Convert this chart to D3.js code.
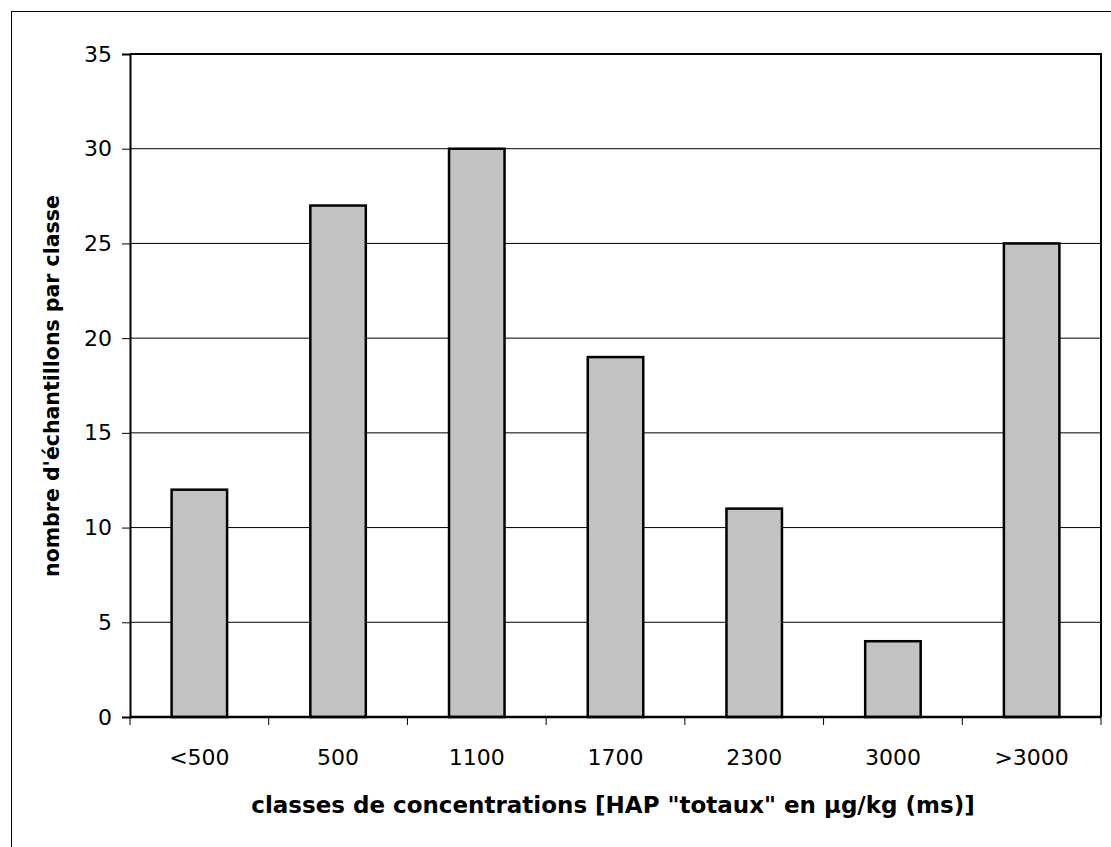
<!DOCTYPE html>
<html>
<head>
<meta charset="utf-8">
<script src="https://cdn.jsdelivr.net/npm/d3@7"></script>
<style>
  body { margin: 0; background: #fff; }
  svg { display: block; font-family: Tahoma, "DejaVu Sans", Verdana, sans-serif; }
</style>
</head>
<body>
<div id="chart"></div>
<script>
// data
var categories = ['<500', '500', '1100', '1700', '2300', '3000', '>3000'];
var counts = [12, 27, 30, 19, 11, 4, 25];
var yTicks = [0, 5, 10, 15, 20, 25, 30, 35];
var xTitle = 'classes de concentrations [HAP "totaux" en µg/kg (ms)]';
var yTitle = "nombre d'échantillons par classe";

function buildChart(containerId) {
    var width = 1111;
    var height = 847;

    var margin = { top: 54, right: 10, bottom: 130, left: 130 };
    var innerWidth = 1101 - margin.left;
    var innerHeight = 717 - margin.top;

    var svg = d3.select(containerId)
        .append('svg')
        .attr('width', width)
        .attr('height', height);

    // outer chart border
    svg.append('rect')
        .attr('x', 11.5)
        .attr('y', 11.5)
        .attr('width', width + 20)
        .attr('height', height + 20)
        .style('fill', 'none')
        .style('stroke', '#000')
        .style('stroke-width', 1);

    var g = svg.append('g')
        .attr('transform', 'translate(' + margin.left + ',' + margin.top + ')');

    var x = d3.scaleBand()
        .domain(categories)
        .range([0, innerWidth])
        .paddingInner(0.6)
        .paddingOuter(0.3);

    var xOuter = d3.scaleBand()
        .domain(categories)
        .range([0, innerWidth]);

    var y = d3.scaleLinear()
        .domain([0, 35])
        .range([innerHeight, 0]);

    // gridlines
    g.append('g')
        .selectAll('line')
        .data(yTicks.slice(1))
        .enter()
        .append('line')
        .attr('x1', 0)
        .attr('x2', innerWidth)
        .attr('y1', d => y(d))
        .attr('y2', d => y(d))
        .style('stroke', '#000')
        .style('stroke-width', 1);

    // y axis
    var yAxis = d3.axisLeft(y)
        .tickValues(yTicks)
        .tickSize(8)
        .tickPadding(10);

    var yg = g.append('g').call(yAxis)
        .attr('font-family', null)
        .attr('font-size', null);
    yg.select('.domain').style('stroke-width', 2);
    yg.selectAll('text').style('font-size', '22px').style('fill', '#000');

    // bars
    g.selectAll('.bar')
        .data(counts)
        .enter()
        .append('rect')
        .attr('class', 'bar')
        .attr('x', (d, i) => x(categories[i]))
        .attr('y', d => y(d))
        .attr('width', x.bandwidth())
        .attr('height', d => innerHeight - y(d))
        .style('fill', '#c2c2c2')
        .style('stroke', '#000')
        .style('stroke-width', 2.5);

    // x axis
    var xAxis = d3.axisBottom(xOuter)
        .tickSize(0)
        .tickPadding(32);

    var xg = g.append('g')
        .attr('transform', 'translate(0,' + innerHeight + ')')
        .call(xAxis)
        .attr('font-family', null)
        .attr('font-size', null);
    xg.select('.domain').remove();
    xg.selectAll('text').style('font-size', '22px').style('fill', '#000');

    xg.append('line')
        .attr('x1', 0)
        .attr('x2', innerWidth)
        .style('stroke', '#000')
        .style('stroke-width', 2.5);

    // tick marks between categories
    xg.selectAll('.sep')
        .data(d3.range(categories.length + 1))
        .enter()
        .append('line')
        .attr('class', 'sep')
        .attr('x1', i => i < categories.length ? xOuter(categories[i]) : innerWidth)
        .attr('x2', i => i < categories.length ? xOuter(categories[i]) : innerWidth)
        .attr('y1', 0)
        .attr('y2', 8)
        .style('stroke', '#000')
        .style('stroke-width', 1);

    // top and right border of plot
    g.append('path')
        .attr('d', 'M0,0H' + innerWidth + 'V' + innerHeight)
        .style('fill', 'none')
        .style('stroke', '#000')
        .style('stroke-width', 2);

    // titles
    svg.append('text')
        .attr('x', 613)
        .attr('y', 813)
        .attr('text-anchor', 'middle')
        .style('font-size', '23px')
        .style('font-weight', 'bold')
        .text(xTitle);

    svg.append('text')
        .attr('transform', 'translate(59,' + 386 + ') rotate(-90)')
        .attr('text-anchor', 'middle')
        .style('font-size', '20.5px')
        .style('font-weight', 'bold')
        .text(yTitle);
}

buildChart('#chart');
</script>
</body>
</html>
